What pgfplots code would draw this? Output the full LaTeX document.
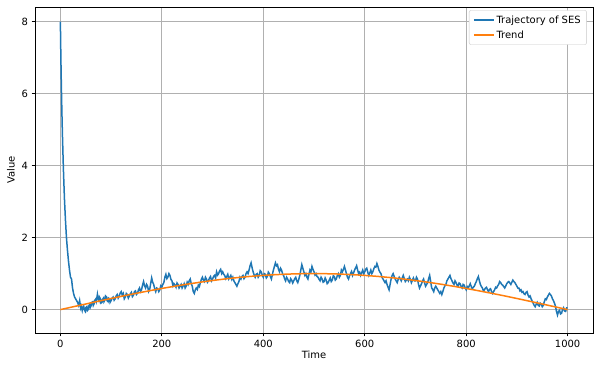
\documentclass[border=0pt]{standalone}
\usepackage{fontspec}
\setmainfont{DejaVu Sans}
\usepackage{pgfplots}
\pgfplotsset{compat=1.18}
\definecolor{tabblue}{HTML}{1F77B4}
\definecolor{taborange}{HTML}{FF7F0E}
\definecolor{gridgray}{HTML}{B0B0B0}
\begin{document}
\begin{tikzpicture}
\begin{axis}[
  scale only axis,
  width=558bp, height=326bp,
  xmin=-50, xmax=1050, ymin=-0.65, ymax=8.41,
  xtick={0,200,400,600,800,1000},
  ytick={0,2,4,6,8},
  tick align=outside, tick pos=left,
  major tick length=3.5bp,
  every tick/.style={black, line width=0.8bp},
  axis line style={line width=0.8bp},
  grid=major,
  major grid style={gridgray, line width=0.8bp},
  /pgf/number format/assume math mode=true,
  /pgf/number format/1000 sep={},
  ticklabel style={font=\fontsize{10}{12}\selectfont},
  label style={font=\fontsize{10}{12}\selectfont},
  xlabel={Time}, ylabel={Value},
  xlabel style={yshift=3bp},
  ylabel style={yshift=0bp},
  legend style={font=\fontsize{10}{12}\selectfont, draw=gridgray!70, rounded corners=2bp, inner xsep=4bp, inner ysep=3bp, at={(0.989,0.99)}, anchor=north east, row sep=2bp},
  legend image post style={line width=1.5bp},
  legend image code/.code={\draw[#1] (0bp,0bp) -- (20bp,0bp);},
  legend cell align=left,
]
\addplot[tabblue, line width=1.5bp] coordinates {
(0,8.0)(1,7.0)(2,6.2)(3,5.5)(4,4.9)(5,4.4)(6,3.9)(7,3.5)(8,3.1)(9,2.8)(10,2.5)(12,2.0)(14,1.65)(16,1.35)(18,1.1)(20,0.9)(22,0.85)(24,0.6)(26,0.45)(28,0.35)(30,0.3)(32,0.25)(34,0.2)(36,0.12)
(38,0.25)(39,0.15)(40,0.05)(41,0.1)(43,-0.02)(44,0.06)(46,0.1)(47,0.0)(49,-0.05)(50,0.05)(52,0.08)(53,-0.03)(55,0.0)(56,0.1)(58,0.15)(59,0.06)(61,0.12)(62,0.2)(64,0.22)(65,0.12)(67,0.18)(68,0.26)(70,0.3)(71,0.24)(73,0.42)(74,0.32)(76,0.25)(77,0.35)(79,0.3)(80,0.18)(82,0.2)(83,0.28)(85,0.32)(86,0.22)(88,0.28)(89,0.38)(91,0.35)(92,0.25)(94,0.22)(95,0.32)(97,0.3)(98,0.2)
(100,0.25)(102,0.32)(104,0.35)(106,0.26)(108,0.3)(110,0.38)(112,0.42)(114,0.32)(116,0.38)(118,0.46)(120,0.5)(122,0.4)(124,0.45)(126,0.3)(128,0.35)(130,0.45)(132,0.42)(134,0.32)(136,0.38)(138,0.44)(140,0.48)(142,0.36)(144,0.4)(146,0.5)(148,0.52)(150,0.42)(152,0.45)(154,0.55)(156,0.6)(158,0.5)(160,0.55)(162,0.68)(164,0.78)(166,0.66)(168,0.6)(170,0.7)(172,0.65)(174,0.5)(176,0.55)(178,0.72)(180,0.88)(182,0.76)(184,0.7)(186,0.58)(188,0.5)(190,0.6)(192,0.58)(194,0.5)(196,0.55)(198,0.66)
(200,0.62)(202,0.7)(204,0.75)(206,0.9)(208,0.98)(210,0.86)(212,0.9)(214,1.0)(216,0.95)(218,0.84)(220,0.8)(222,0.66)(224,0.72)(226,0.68)(228,0.62)(230,0.74)(232,0.7)(234,0.6)(236,0.65)(238,0.7)(240,0.6)(242,0.66)(244,0.72)(246,0.6)(248,0.65)(250,0.76)(252,0.7)(254,0.8)(256,0.85)(258,0.72)(260,0.65)(262,0.5)(264,0.45)(266,0.55)(268,0.6)(270,0.56)(272,0.68)(274,0.64)(276,0.75)(278,0.84)(280,0.9)(282,0.82)(284,0.78)(286,0.9)(288,0.85)(290,0.76)(292,0.8)(294,0.88)(296,0.92)(298,0.8)
(300,0.85)(302,0.92)(304,0.95)(306,0.88)(308,1.05)(310,0.96)(312,1.0)(314,1.08)(316,1.12)(318,1.0)(320,1.05)(322,0.98)(324,0.95)(326,0.86)(328,0.92)(330,0.98)(332,0.85)(334,0.9)(336,0.95)(338,0.84)(340,0.9)(342,0.8)(344,0.75)(346,0.7)(348,0.65)(350,0.72)(352,0.78)(354,0.9)(356,0.85)(358,0.92)(360,0.95)(362,0.86)(364,0.9)(366,1.0)(368,1.05)(370,1.0)(372,1.1)(374,1.22)(376,1.3)(378,1.16)(380,1.05)(382,0.96)(384,0.9)(386,0.98)(388,1.0)(390,0.9)(392,0.95)(394,1.08)(396,1.05)(398,0.96)
(400,0.9)(402,1.0)(404,0.98)(406,0.88)(408,0.92)(410,1.04)(412,1.0)(414,0.92)(416,0.85)(418,0.98)(420,1.1)(422,1.2)(424,1.3)(426,1.22)(428,1.25)(430,1.12)(432,1.05)(434,1.15)(436,1.1)(438,1.0)(440,0.95)(442,0.86)(444,0.8)(446,0.9)(448,0.85)(450,0.78)(452,0.75)(454,0.86)(456,0.82)(458,0.74)(460,0.8)(462,0.86)(464,0.9)(466,0.8)(468,0.75)(470,0.84)(472,0.95)(474,1.1)(476,1.25)(478,1.15)(480,1.05)(482,0.95)(484,1.0)(486,0.9)(488,0.85)(490,0.98)(492,1.1)(494,1.05)(496,1.2)(498,1.12)
(500,1.05)(502,0.96)(504,1.0)(506,0.92)(508,0.9)(510,0.84)(512,0.8)(514,0.9)(516,0.85)(518,0.76)(520,0.78)(522,0.88)(524,0.82)(526,0.72)(528,0.75)(530,0.82)(532,0.88)(534,0.78)(536,0.82)(538,0.94)(540,0.92)(542,0.82)(544,0.85)(546,0.95)(548,1.0)(550,0.9)(552,0.95)(554,1.1)(556,1.05)(558,1.12)(560,1.2)(562,1.1)(564,1.0)(566,0.9)(568,0.85)(570,0.94)(572,1.0)(574,1.06)(576,0.95)(578,1.02)(580,1.1)(582,1.16)(584,1.22)(586,1.1)(588,1.0)(590,1.04)(592,0.95)(594,1.02)(596,1.1)(598,1.0)
(600,1.05)(602,1.12)(604,1.15)(606,1.04)(608,0.95)(610,1.02)(612,1.1)(614,1.0)(616,1.05)(618,1.14)(620,1.2)(622,1.18)(624,1.28)(626,1.2)(628,1.1)(630,1.04)(632,1.0)(634,0.9)(636,0.85)(638,0.8)(640,0.75)(642,0.8)(644,0.7)(646,0.62)(648,0.55)(650,0.7)(652,0.85)(654,0.95)(656,1.0)(658,0.92)(660,0.85)(662,0.8)(664,0.75)(666,0.84)(668,0.9)(670,0.86)(672,0.8)(674,0.88)(676,0.95)(678,0.86)(680,0.78)(682,0.82)(684,0.85)(686,0.8)(688,0.9)(690,0.84)(692,0.75)(694,0.82)(696,0.88)(698,0.8)
(700,0.8)(702,0.9)(704,0.85)(706,0.7)(708,0.6)(710,0.66)(712,0.72)(714,0.8)(716,0.85)(718,0.74)(720,0.65)(722,0.7)(724,0.75)(726,0.86)(728,0.95)(730,0.78)(732,0.6)(734,0.56)(736,0.5)(738,0.6)(740,0.65)(742,0.6)(744,0.55)(746,0.5)(748,0.45)(750,0.5)(752,0.42)(754,0.5)(756,0.6)(758,0.66)(760,0.7)(762,0.8)(764,0.85)(766,0.9)(768,0.95)(770,0.86)(772,0.8)(774,0.74)(776,0.7)(778,0.8)(780,0.75)(782,0.68)(784,0.65)(786,0.74)(788,0.72)(790,0.64)(792,0.6)(794,0.7)(796,0.68)(798,0.6)
(800,0.55)(802,0.64)(804,0.6)(806,0.66)(808,0.72)(810,0.64)(812,0.58)(814,0.62)(816,0.65)(818,0.72)(820,0.78)(822,0.86)(824,0.92)(826,0.8)(828,0.7)(830,0.64)(832,0.6)(834,0.52)(836,0.55)(838,0.6)(840,0.62)(842,0.55)(844,0.5)(846,0.56)(848,0.58)(850,0.5)(852,0.45)(854,0.5)(856,0.55)(858,0.62)(860,0.6)(862,0.66)(864,0.7)(866,0.78)(868,0.75)(870,0.7)(872,0.68)(874,0.64)(876,0.6)(878,0.66)(880,0.72)(882,0.76)(884,0.78)(886,0.74)(888,0.7)(890,0.76)(892,0.82)(894,0.78)(896,0.75)(898,0.7)
(900,0.65)(902,0.6)(904,0.6)(906,0.52)(908,0.55)(910,0.48)(912,0.5)(914,0.44)(916,0.42)(918,0.48)(920,0.5)(922,0.4)(924,0.35)(926,0.38)(928,0.3)(930,0.24)(932,0.18)(934,0.12)(936,0.08)(938,0.15)(940,0.2)(942,0.12)(944,0.1)(946,0.18)(948,0.15)(950,0.08)(952,0.12)(954,0.22)(956,0.3)(958,0.28)(960,0.35)(962,0.4)(964,0.45)(966,0.42)(968,0.38)(970,0.3)(972,0.25)(974,0.18)(976,0.1)(978,-0.05)(980,-0.15)(982,-0.05)(984,-0.02)(986,-0.12)(988,-0.1)(990,0.0)(992,0.05)(994,-0.04)(996,-0.05)(998,0.05)(1000,0.05)
};
\addlegendentry{Trajectory of SES}
\addplot[taborange, line width=1.5bp] coordinates {
(0,0.000)(25,0.078)(50,0.156)(75,0.233)(100,0.309)(125,0.383)(150,0.454)(175,0.522)(200,0.588)(225,0.649)(250,0.707)(275,0.760)(300,0.809)(325,0.853)(350,0.891)(375,0.924)(400,0.951)(425,0.972)(450,0.988)(475,0.997)(500,1.000)
(525,0.997)(550,0.988)(575,0.972)(600,0.951)(625,0.924)(650,0.891)(675,0.853)(700,0.809)(725,0.760)(750,0.707)(775,0.649)(800,0.588)(825,0.522)(850,0.454)(875,0.383)(900,0.309)(925,0.233)(950,0.156)(975,0.078)(1000,0.000)
};
\addlegendentry{Trend}
\end{axis}
\path ([shift={(-35bp,-38bp)}]current axis.south west) rectangle ([shift={(6bp,7bp)}]current axis.north east);
\end{tikzpicture}
\end{document}
